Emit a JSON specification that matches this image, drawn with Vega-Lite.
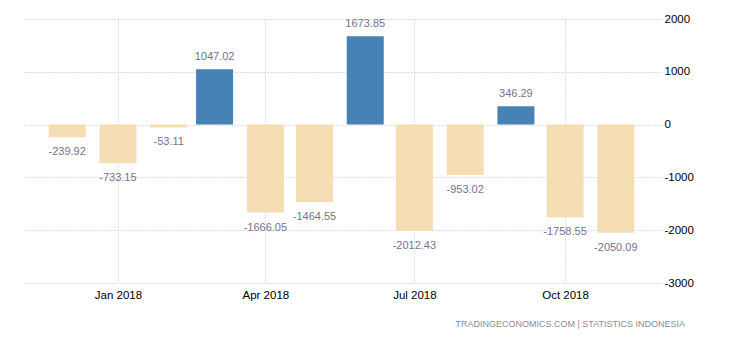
{
  "$schema": "https://vega.github.io/schema/vega-lite/v6.json",
  "autosize": {"type": "none"},
  "width": 639,
  "height": 264,
  "padding": {"left": 22, "top": 19, "right": 69, "bottom": 57},
  "background": "white",
  "view": {"stroke": null},
  "config": {
    "locale": {
      "number": {"decimal": ".", "thousands": ",", "grouping": [3], "currency": ["$", ""], "minus": "-"}
    }
  },
  "title": {
    "text": "TRADINGECONOMICS.COM  |  STATISTICS INDONESIA",
    "orient": "bottom",
    "anchor": "end",
    "frame": "group",
    "dx": 24,
    "offset": 19,
    "font": "Liberation Sans",
    "fontSize": 9,
    "fontWeight": "normal",
    "color": "#8a8aa0"
  },
  "data": {
    "values": [
      {"date": "2017-12-01T00:00:00", "v": -239.92},
      {"date": "2018-01-01T00:00:00", "v": -733.15},
      {"date": "2018-02-01T00:00:00", "v": -53.11},
      {"date": "2018-03-01T00:00:00", "v": 1047.02},
      {"date": "2018-04-01T00:00:00", "v": -1666.05},
      {"date": "2018-05-01T00:00:00", "v": -1464.55},
      {"date": "2018-06-01T00:00:00", "v": 1673.85},
      {"date": "2018-07-01T00:00:00", "v": -2012.43},
      {"date": "2018-08-01T00:00:00", "v": -953.02},
      {"date": "2018-09-01T00:00:00", "v": 346.29},
      {"date": "2018-10-01T00:00:00", "v": -1758.55},
      {"date": "2018-11-01T00:00:00", "v": -2050.09}
    ]
  },
  "encoding": {
    "x": {
      "field": "date",
      "type": "temporal",
      "scale": {
        "padding": 0,
        "domain": [
          {"year": 2017, "month": 11, "date": 3, "hours": 10},
          {"year": 2018, "month": 11, "date": 28, "hours": 14}
        ]
      },
      "axis": {
        "title": null,
        "values": [
          {"year": 2018, "month": 1, "date": 1},
          {"year": 2018, "month": 4, "date": 1},
          {"year": 2018, "month": 7, "date": 1},
          {"year": 2018, "month": 10, "date": 1}
        ],
        "format": "%b %Y",
        "domain": false,
        "ticks": false,
        "labelPadding": 6,
        "labelFont": "Liberation Sans",
        "labelFontSize": 11.5,
        "labelColor": "#000000",
        "grid": true,
        "gridColor": "#c0c0c0",
        "gridDash": [1, 2],
        "gridWidth": 1
      }
    },
    "y": {
      "field": "v",
      "type": "quantitative",
      "scale": {"domain": [-3000, 2000], "nice": false},
      "axis": {
        "title": null,
        "orient": "right",
        "values": [-3000, -2000, -1000, 0, 1000, 2000],
        "format": "d",
        "domain": false,
        "ticks": false,
        "labelPadding": 3,
        "labelFont": "Liberation Sans",
        "labelFontSize": 11.5,
        "labelColor": "#000000",
        "grid": true,
        "gridColor": "#c0c0c0",
        "gridDash": [1, 2],
        "gridWidth": 1
      }
    }
  },
  "layer": [
    {
      "mark": {"type": "bar", "width": 37},
      "encoding": {
        "color": {
          "condition": {"test": "datum.v >= 0", "value": "#4682b4"},
          "value": "#f5deb3"
        }
      }
    },
    {
      "transform": [{"filter": "datum.v >= 0"}],
      "mark": {"type": "text", "baseline": "middle", "dy": -12, "font": "Liberation Sans", "fontSize": 11, "color": "#737390"},
      "encoding": {"text": {"field": "v", "type": "quantitative", "format": ".2f"}}
    },
    {
      "transform": [{"filter": "datum.v < 0"}],
      "mark": {"type": "text", "baseline": "middle", "dy": 15, "font": "Liberation Sans", "fontSize": 11, "color": "#737390"},
      "encoding": {"text": {"field": "v", "type": "quantitative", "format": ".2f"}}
    }
  ]
}
